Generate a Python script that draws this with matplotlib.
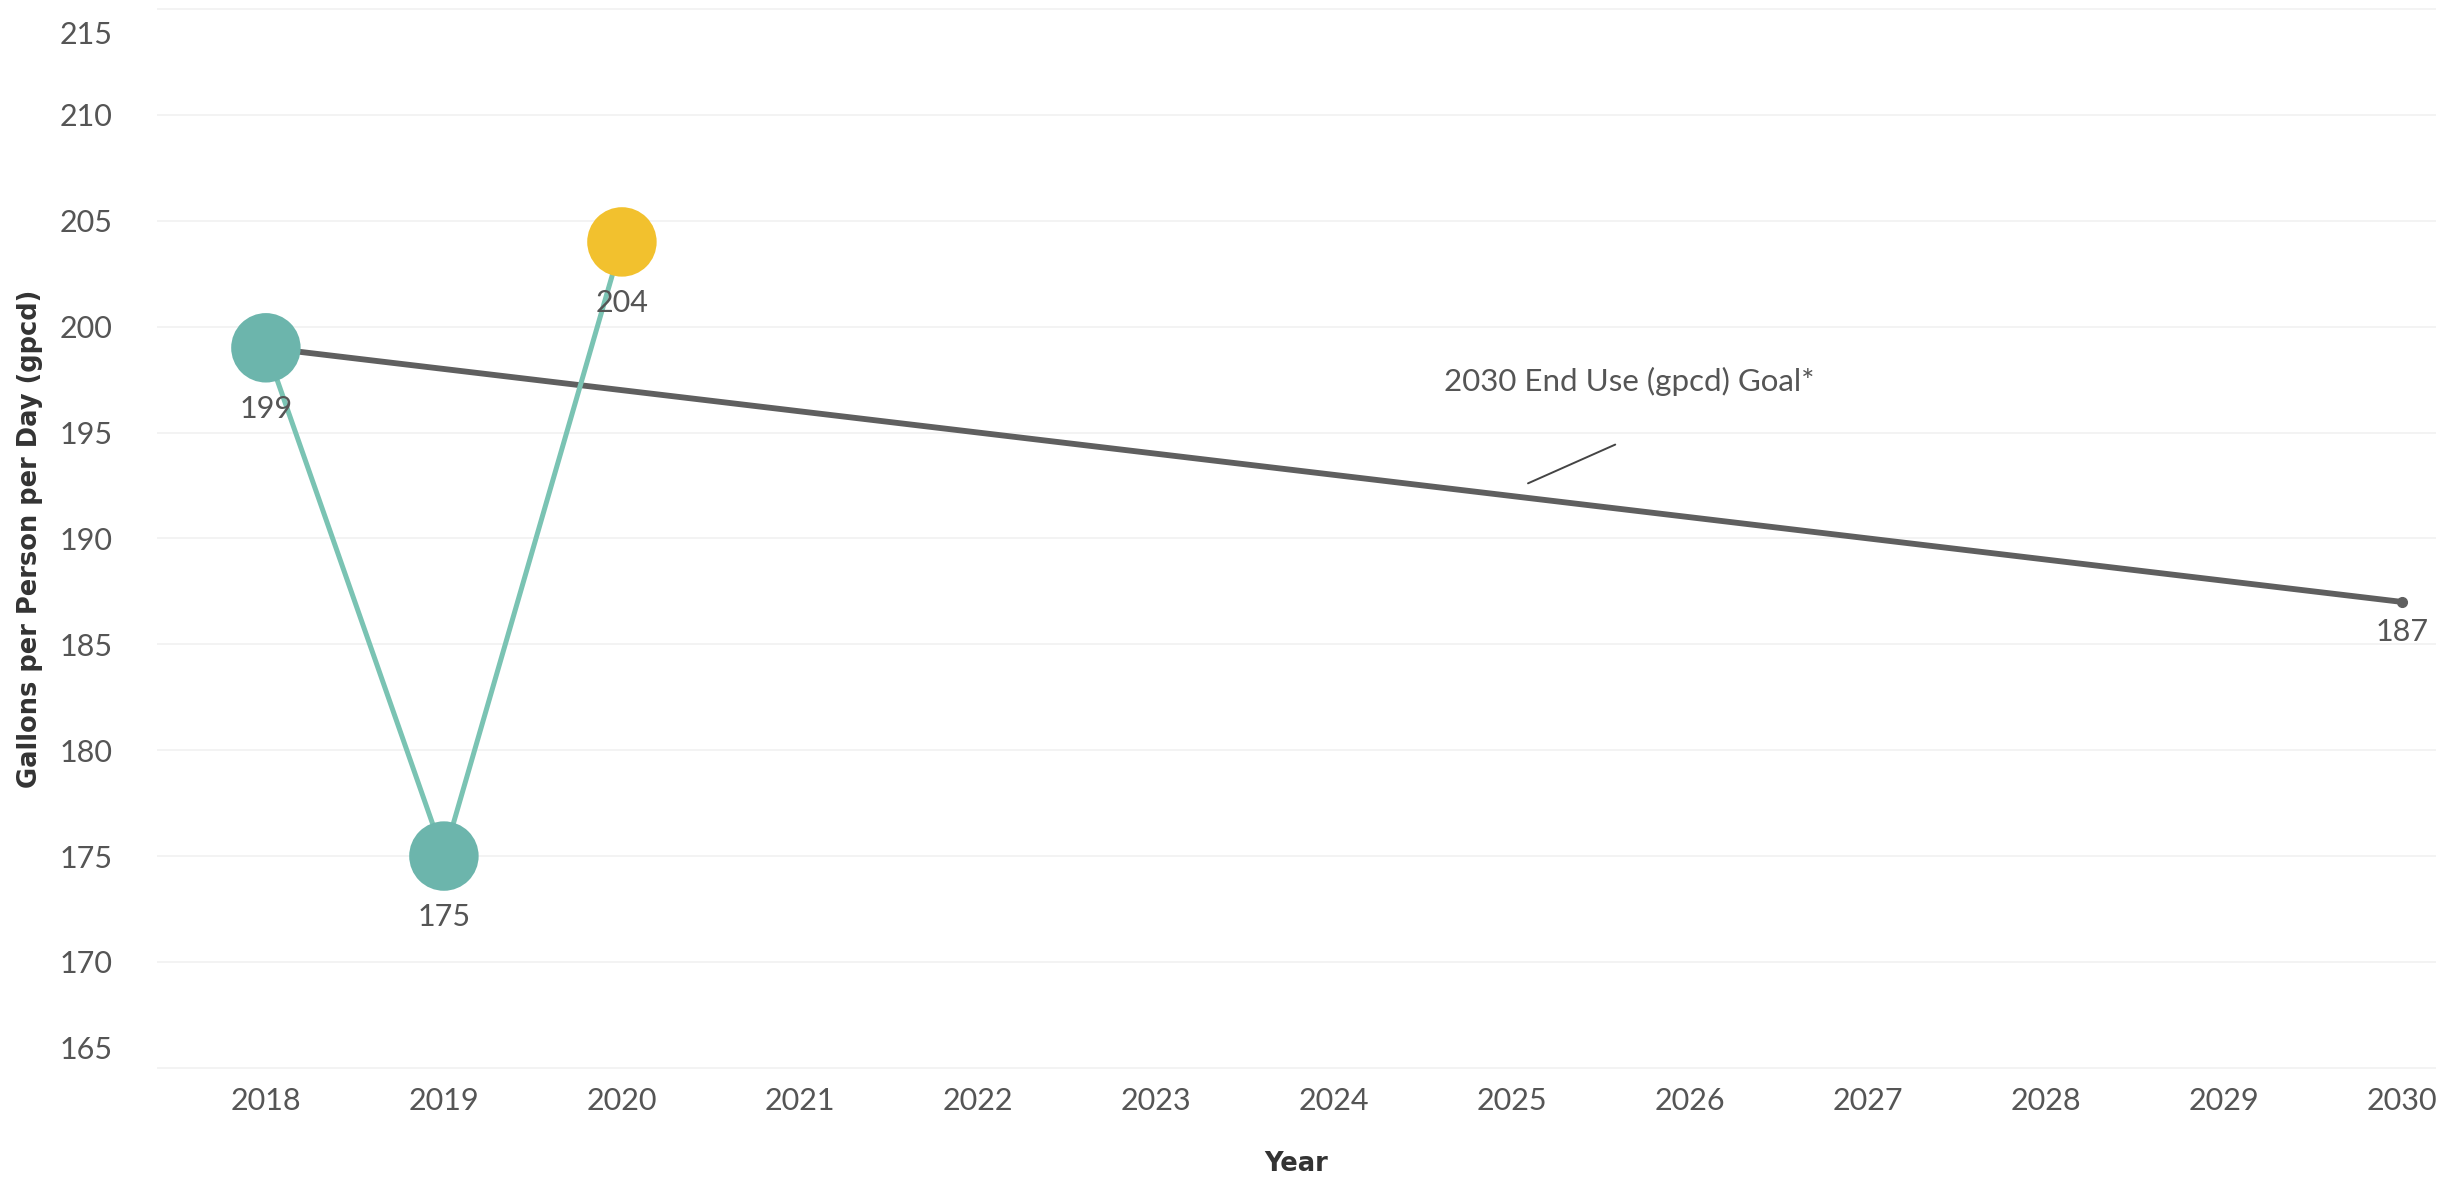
import matplotlib
matplotlib.use("Agg")
import matplotlib.pyplot as plt
import matplotlib.transforms as mtransforms

# actual end use (gpcd)
years = [2018, 2019, 2020]
gpcd = [199, 175, 204]
point_colors = ["#6cb5ac", "#6cb5ac", "#f2c12e"]

# 2030 goal line
goal_years = [2018, 2030]
goal_gpcd = [199, 187]
goal_label = "2030 End Use (gpcd) Goal*"
goal_label_pos = (2025.66, 197.4)
goal_leader = [(2025.09, 192.6), (2025.58, 194.43)]

xticks = list(range(2018, 2031))
yticks = list(range(165, 216, 5))

plt.rcParams["font.family"] = ["Lato", "DejaVu Sans"]

fig = plt.figure(figsize=(24.58, 11.82), dpi=100)
ax = fig.add_axes([0.064, 0.093, 0.927, 0.903])

ax.set_xlim(2017.39, 2030.19)
ax.set_ylim(164.8, 215.2)

for y in yticks:
    ax.axhline(y, color="#f1f1f1", lw=1.2, zorder=0)

# goal line
ax.plot(goal_years, goal_gpcd, color="#5f5f5f", lw=4.2, zorder=2,
        marker="o", markersize=7, markevery=[1])

# actual line + points
ax.plot(years, gpcd, color="#7ac3b3", lw=3.6, zorder=3)
ax.scatter(years, gpcd, s=2500, c=point_colors, edgecolors="none", zorder=4)

for x, y in zip(years, gpcd):
    ax.annotate(str(y), (x, y), xytext=(0, -44), textcoords="offset points",
                ha="center", va="center", fontsize=22, color="#555555", zorder=5)
ax.annotate(str(goal_gpcd[-1]), (goal_years[-1], goal_gpcd[-1]), xytext=(0, -22),
            textcoords="offset points", ha="center", va="center",
            fontsize=22, color="#555555")

# goal annotation
ax.annotate("", xy=goal_leader[0], xytext=goal_leader[1],
            arrowprops=dict(arrowstyle="-", color="#444444", lw=1.4,
                            shrinkA=0, shrinkB=0))
ax.text(*goal_label_pos, goal_label, ha="center", va="center",
        fontsize=22.5, color="#555555")

ax.set_xticks(xticks)
ax.set_yticks(yticks)
ax.tick_params(length=0, labelsize=22, colors="#555555")
ax.tick_params(axis="x", pad=11)
ax.tick_params(axis="y", pad=32)
for s in ax.spines.values():
    s.set_visible(False)

# Tableau pushes the edge labels inside the pane
yt = ax.yaxis.get_major_ticks()
yt[0].label1.set_transform(yt[0].label1.get_transform() +
                           mtransforms.ScaledTranslation(0, 0.20, fig.dpi_scale_trans))
yt[-1].label1.set_transform(yt[-1].label1.get_transform() +
                            mtransforms.ScaledTranslation(0, -0.235, fig.dpi_scale_trans))

ax.set_xlabel("Year", fontsize=18.5, fontweight="bold", color="#333333",
              family="DejaVu Sans", labelpad=26)
ax.set_ylabel("Gallons per Person per Day (gpcd)", fontsize=18.5, fontweight="bold",
              color="#333333", family="DejaVu Sans")
ax.yaxis.set_label_coords(-0.050, 0.5)

fig.savefig("out.png", dpi=100, facecolor="white")
